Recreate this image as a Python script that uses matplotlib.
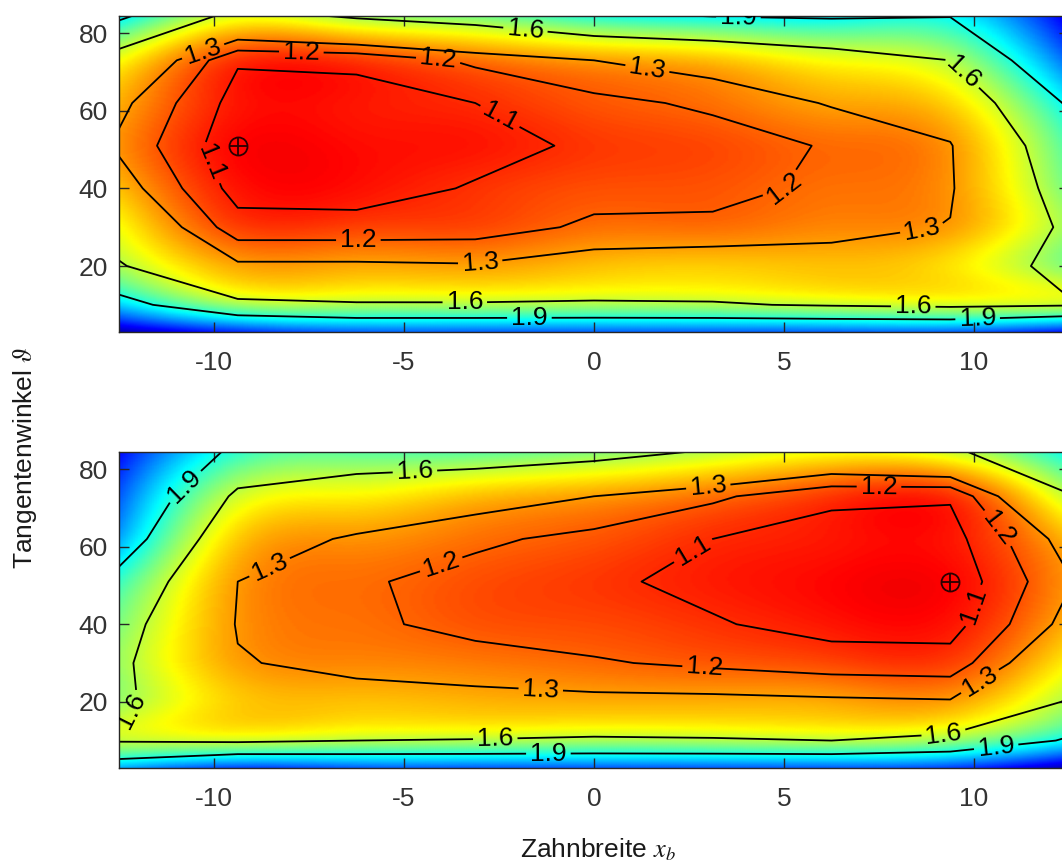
import numpy as np
import matplotlib
matplotlib.use('Agg')
import matplotlib.pyplot as plt
from matplotlib.colors import LinearSegmentedColormap

plt.rcParams['font.family'] = ['Liberation Sans', 'DejaVu Sans']
plt.rcParams['mathtext.fontset'] = 'stix'
plt.rcParams['axes.unicode_minus'] = False

# ---------------- data ----------------
x_b = np.array([-12.5, -9.375, -6.25, -3.125, 0.0, 3.125, 6.25, 9.375, 12.5])
theta = np.array([3.0, 10.0, 20.0, 30.0, 40.0, 51.0, 62.0, 73.0, 84.5])

# rows = theta (bottom -> top), columns = x_b (left -> right)
Z_top = np.array([
    [2.50, 2.30, 2.20, 2.20, 2.20, 2.20, 2.20, 2.20, 2.35],
    [2.00, 1.65, 1.62, 1.62, 1.63, 1.62, 1.58, 1.55, 1.58],
    [1.62, 1.32, 1.32, 1.31, 1.36, 1.38, 1.36, 1.42, 1.685],
    [1.48, 1.14, 1.14, 1.15, 1.22, 1.22, 1.26, 1.305, 1.645],
    [1.36, 1.06, 1.05, 1.11, 1.16, 1.17, 1.22, 1.285, 1.71],
    [1.28, 1.03, 1.04, 1.06, 1.12, 1.15, 1.21, 1.29, 1.78],
    [1.33, 1.06, 1.06, 1.10, 1.17, 1.22, 1.31, 1.40, 1.93],
    [1.48, 1.11, 1.12, 1.22, 1.30, 1.36, 1.48, 1.60, 2.18],
    [1.95, 1.52, 1.63, 1.70, 1.85, 1.91, 1.93, 1.91, 2.40],
])

Z_bottom = np.array([
    [2.05, 2.24, 2.20, 2.20, 2.20, 2.20, 2.20, 2.25, 2.50],
    [1.58, 1.56, 1.60, 1.61, 1.63, 1.62, 1.60, 1.66, 1.93],
    [1.64, 1.38, 1.36, 1.34, 1.33, 1.33, 1.32, 1.31, 1.62],
    [1.64, 1.31, 1.26, 1.24, 1.21, 1.18, 1.15, 1.14, 1.46],
    [1.69, 1.29, 1.22, 1.17, 1.15, 1.11, 1.06, 1.06, 1.34],
    [1.814, 1.30, 1.215, 1.16, 1.12, 1.07, 1.03, 1.03, 1.29],
    [2.06, 1.38, 1.28, 1.22, 1.17, 1.10, 1.06, 1.06, 1.35],
    [2.20, 1.55, 1.45, 1.36, 1.30, 1.22, 1.12, 1.11, 1.58],
    [2.35, 1.83, 1.75, 1.75, 1.68, 1.58, 1.48, 1.55, 1.90],
])

levels = [1.1, 1.2, 1.3, 1.6, 1.9]
min_top = (-9.375, 51.0)
min_bottom = (9.375, 51.0)

x_ticks = [-10, -5, 0, 5, 10]
y_ticks = [20, 40, 60, 80]

label_pos_top = [(-10.3, 75.7), (-7.7, 75.7), (-4.1, 73.0), (1.4, 70.6), (-1.8, 81.4),
                 (3.8, 84.0), (9.6, 68.8), (-2.5, 58.1), (-10.3, 45.7), (-6.2, 26.1),
                 (-3.0, 21.3), (5.2, 38.0), (8.7, 25.1), (-3.4, 10.9), (-1.7, 6.2),
                 (8.4, 8.3), (10.1, 5.0)]
label_pos_bottom = [(-10.8, 75.9), (-4.7, 76.7), (-8.5, 53.9), (-4.0, 54.8), (3.0, 76.4),
                    (7.5, 75.9), (2.6, 59.1), (10.8, 66.1), (10.1, 44.4), (10.2, 24.6),
                    (2.9, 27.2), (-1.4, 23.4), (-11.9, 15.9), (-2.6, 11.3), (-1.2, 6.9),
                    (9.2, 12.0), (10.6, 6.8)]

# ---------------- helpers ----------------
def natural_spline(xk, yk, xq):
    n = len(xk)
    h = np.diff(xk)
    A = np.zeros((n, n))
    r = np.zeros(n)
    A[0, 0] = 1.0
    A[-1, -1] = 1.0
    for i in range(1, n - 1):
        A[i, i - 1] = h[i - 1]
        A[i, i] = 2 * (h[i - 1] + h[i])
        A[i, i + 1] = h[i]
        r[i] = 6 * ((yk[i + 1] - yk[i]) / h[i] - (yk[i] - yk[i - 1]) / h[i - 1])
    M = np.linalg.solve(A, r)
    idx = np.clip(np.searchsorted(xk, xq) - 1, 0, n - 2)
    x0 = xk[idx]
    x1 = xk[idx + 1]
    hh = x1 - x0
    a = (x1 - xq) / hh
    b = (xq - x0) / hh
    return a * yk[idx] + b * yk[idx + 1] + ((a ** 3 - a) * M[idx] + (b ** 3 - b) * M[idx + 1]) * hh ** 2 / 6


def spline_weights(xk, xq):
    n = len(xk)
    W = np.zeros((len(xq), n))
    for j in range(n):
        e = np.zeros(n)
        e[j] = 1.0
        W[:, j] = natural_spline(xk, e, xq)
    return W


matlab_jet = LinearSegmentedColormap.from_list(
    'mjet', [(0.0, (0, 0, 0.5)), (1 / 8, (0, 0, 1)), (3 / 8, (0, 1, 1)),
             (5 / 8, (1, 1, 0)), (7 / 8, (1, 0, 0)), (1.0, (0.5, 0, 0))], N=256)
cmap = matlab_jet.reversed()
vmin, vmax = 0.80, 2.58

xf = np.linspace(x_b[0], x_b[-1], 400)
yf = np.linspace(theta[0], theta[-1], 300)
Wx = spline_weights(x_b, xf)
Wy = spline_weights(theta, yf)

fig = plt.figure(figsize=(10.62, 8.64), dpi=100)
W, H = 1062.0, 864.0
ax_top = fig.add_axes([119 / W, 1 - 332 / H, 950 / W, 316.3 / H])
ax_bot = fig.add_axes([119 / W, 1 - 767.7 / H, 950 / W, 316 / H])

axcol = '#262626'
for ax, Z, mpos, lpos in [(ax_top, Z_top, min_top, label_pos_top),
                          (ax_bot, Z_bottom, min_bottom, label_pos_bottom)]:
    Zf = Wy @ Z @ Wx.T
    ax.pcolormesh(xf, yf, Zf, shading='gouraud', cmap=cmap, vmin=vmin, vmax=vmax,
                  rasterized=True)
    cs = ax.contour(x_b, theta, Z, levels=levels, colors='k', linewidths=1.3)
    ax.clabel(cs, fmt='%.1f', fontsize=19, inline=True, inline_spacing=4, manual=lpos)
    ax.plot([mpos[0]], [mpos[1]], marker='o', ms=13, mfc='none', mec='#2a0000', mew=1.3)
    ax.plot([mpos[0]], [mpos[1]], marker='+', ms=13, mec='#2a0000', mew=1.3)
    ax.set_xlim(x_b[0], x_b[-1])
    ax.set_ylim(theta[0], theta[-1])
    ax.set_xticks(x_ticks)
    ax.set_yticks(y_ticks)
    ax.tick_params(direction='in', top=True, right=True, length=7, width=1,
                   labelsize=19, colors=axcol, labelcolor='#333333')
    ax.tick_params(axis='x', pad=14)
    ax.tick_params(axis='y', pad=8)
    for s in ax.spines.values():
        s.set_color(axcol)
        s.set_linewidth(1.0)

fig.text(598 / W, 1 - 850 / H, 'Zahnbreite $x_b$', ha='center', va='center',
         fontsize=19, color='#1a1a1a')
fig.text(25 / W, 1 - 458 / H, 'Tangentenwinkel $\\vartheta$', rotation=90,
         ha='center', va='center', fontsize=19, color='#1a1a1a')

fig.savefig('out.png', dpi=100)
